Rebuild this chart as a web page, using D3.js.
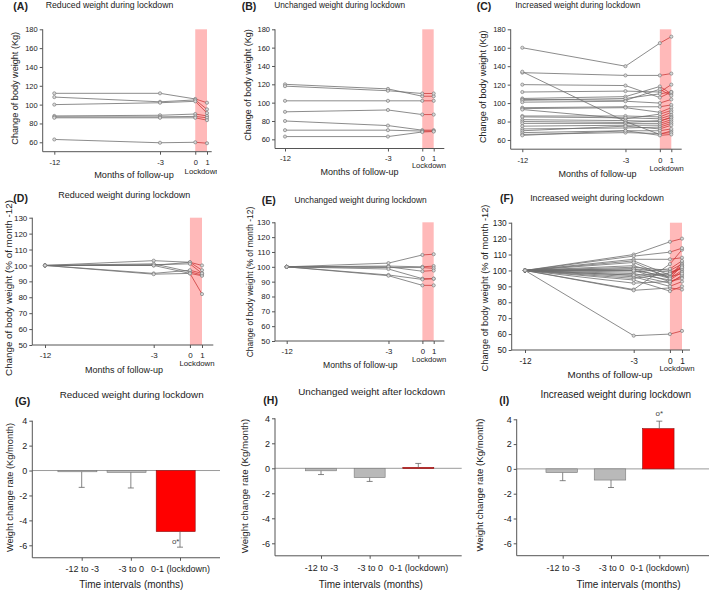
<!DOCTYPE html>
<html><head><meta charset="utf-8">
<script src="https://cdn.jsdelivr.net/npm/d3@7"></script>
<style>body{margin:0;background:#fff}svg{display:block}text{font-family:"Liberation Sans",Arial,sans-serif;fill:#222}</style>
</head><body><svg id="c" width="709" height="591"></svg>
<script>
// ---------- DATA ----------
const months = [-12, -3, 0, 1];
const yTicksKg = [60, 80, 100, 120, 140, 160, 180];
const yTicksPct = [50, 60, 70, 80, 90, 100, 110, 120, 130];
const yTicksRate = [-6, -4, -2, 0, 2, 4];
const intervals = ["-12 to -3", "-3 to 0", "0-1 (lockdown)"];

const kgReduced = [
  [112, 112, 106, 102], [108, 103, 105, 95], [100, 102, 103.5, 91],
  [88, 88.7, 90, 88], [87, 87, 87.5, 86], [86, 86, 86, 83.5], [63, 59.5, 60, 59]
];
const kgUnchanged = [
  [120, 115, 107, 107], [118, 113, 110, 110], [102, 102, 102, 102],
  [90, 92, 87, 87], [80, 75, 70, 70], [70, 70, 69, 69], [63, 63, 68, 68.5]
];
const kgIncreased = [
  [160, 140, 165, 172], [133, 130, 130, 132], [134, 80, 66, 70], [120, 119, 106, 112],
  [112, 113, 112, 120], [105, 107, 118, 110], [104, 103, 115, 108], [103, 105, 110, 112],
  [101, 102, 100, 104], [95, 96, 96, 98], [94, 95, 90, 95], [93, 83, 88, 92],
  [86, 86, 85, 90], [85, 84, 83, 87], [82, 81, 80, 85], [80, 79, 81, 84],
  [78, 78, 78, 82], [75, 76, 76, 80], [72, 73, 74, 78], [70, 75, 72, 76],
  [68, 70, 70, 72], [66, 68, 67, 68], [65, 70, 65, 66]
];
const pctReduced = [
  [100, 103, 102, 100], [100, 100, 102, 97], [100, 100.5, 101, 95], [100, 101, 96, 94],
  [100, 100, 95, 93.5], [100, 95, 97, 95], [100, 94.5, 95, 82]
];
const pctUnchanged = [
  [100, 102.5, 108, 108.5], [100, 100.5, 100, 100.5], [100, 99.5, 99.5, 99],
  [100, 100, 97, 97.5], [100, 98.5, 92, 92], [100, 94.5, 91.5, 92], [100, 94, 87.5, 87.5]
];
const pctIncreased = [
  [100, 59, 60, 62], [100, 88, 104, 113], [100, 87.5, 89, 88], [100, 110, 118, 120],
  [100, 109, 111.5, 114], [100, 107, 107, 108], [100, 106, 97, 102], [100, 103, 96, 105],
  [100, 102, 100, 104], [100, 101, 95, 100], [100, 100, 93, 96], [100, 99, 101, 106],
  [100, 98, 94, 99], [100, 97, 92, 97], [100, 96, 90, 93], [100, 95, 98, 103],
  [100, 94, 87, 90], [100, 101, 99, 101], [100, 100, 96, 98], [100, 92, 93, 95],
  [100, 105, 95, 103], [100, 97, 98, 102]
];
const rateReduced = [-0.1, -0.15, -4.9];
const errReduced = [1.25, 1.25, 1.25];
const rateUnchanged = [-0.2, -0.75, 0.07];
const errUnchanged = [0.3, 0.3, 0.32];
const rateIncreased = [-0.3, -0.9, 3.25];
const errIncreased = [0.65, 0.6, 0.6];

// ---------- DRAW ----------
const svg = d3.select("#c");
const PINK = "#ffb9b9", LINE = "#6e6e6e", RED = "#cc3b3b", AX = "#555";

function txt(g, t, x, y, fs, opts = {}) {
  const e = g.append("text").attr("x", x).attr("y", y).attr("font-size", fs)
    .attr("text-anchor", opts.anchor || "middle").text(t);
  if (opts.bold) e.attr("font-weight", "bold");
  if (opts.rot) e.attr("transform", `rotate(-90,${x},${y})`).attr("dy", "0.35em");
  return e;
}

function linePanel(c, data, ydom, yTicks, ylabel) {
  const g = svg.append("g");
  const x = d3.scaleLinear().domain([-12, 1]).range([c.xm12, c.x1]);
  const y = d3.scaleLinear().domain(ydom).range([c.yb, c.yt]);
  g.append("rect").attr("x", x(0)).attr("y", y(ydom[1])).attr("width", x(1) - x(0))
    .attr("height", y(ydom[0]) - y(ydom[1])).attr("fill", PINK);
  const line = d3.line().x(d => x(d[0])).y(d => y(d[1]));
  data.forEach(row => {
    const pts = months.map((m, i) => [m, row[i]]);
    g.append("path").attr("d", line(pts.slice(0, 3))).attr("fill", "none").attr("stroke", LINE).attr("stroke-width", 0.8);
    g.append("path").attr("d", line(pts.slice(2))).attr("fill", "none").attr("stroke", RED).attr("stroke-width", 0.8);
  });
  data.forEach(row => months.forEach((m, i) => {
    g.append("circle").attr("cx", x(m)).attr("cy", y(row[i])).attr("r", 1.6)
      .attr("fill", "#d8d8d8").attr("stroke", "#707070").attr("stroke-width", 0.6);
  }));
  const yAxis = d3.axisLeft(y).tickValues(yTicks).tickSize(3).tickSizeOuter(0).tickPadding(2).tickFormat(d => String(d));
  const ya = g.append("g").attr("transform", `translate(${c.ax},0)`).call(yAxis);
  ya.select(".domain").remove();
  ya.selectAll("line").attr("stroke", AX);
  ya.selectAll("text").attr("font-size", c.tfs).attr("font-family", null).style("fill", "#222");
  g.append("line").attr("x1", c.ax).attr("x2", c.ax).attr("y1", y(ydom[1])).attr("y2", y(ydom[0])).attr("stroke", AX);
  const axY = y(ydom[0]);
  const xAxis = d3.axisBottom(x).tickValues(months).tickSize(3).tickSizeOuter(0).tickFormat(d => String(d));
  const xa = g.append("g").attr("transform", `translate(0,${axY})`).call(xAxis);
  xa.select(".domain").remove();
  xa.selectAll("line").attr("stroke", AX);
  xa.selectAll("text").attr("font-size", c.tfs).attr("font-family", null).attr("y", c.tb - axY).attr("dy", 0).style("fill", "#222");
  g.append("line").attr("x1", c.ax).attr("x2", c.xr).attr("y1", axY).attr("y2", axY).attr("stroke", AX);
  const lk = txt(g, "Lockdown", x(0.5) + 1, c.lb, c.lfs);
  if (c.clip) {
    svg.append("clipPath").attr("id", "clipA").append("rect").attr("x", 0).attr("y", 0).attr("width", c.clip).attr("height", 591);
    lk.attr("clip-path", "url(#clipA)");
  }
  txt(g, "Months of follow-up", c.xl[0], c.xl[1], c.xl[2]);
  txt(g, ylabel, c.yl[0], c.yl[1], c.yl[2], { rot: true });
  txt(g, c.title, c.ti[0], c.ti[1], c.ti[2]);
  txt(g, c.letter, c.le[0], c.le[1], 10.5, { anchor: "start", bold: true });
}

function barPanel(c, vals, errs) {
  const g = svg.append("g");
  const yb = c.y_6 + (c.y_6 - c.y4) / 10;
  const y = d3.scaleLinear().domain([-7, 4]).range([yb, c.y4]);
  const x = d3.scalePoint().domain(intervals).range([c.t0, c.t2]);
  g.append("line").attr("x1", c.ax).attr("x2", c.xr).attr("y1", y(0)).attr("y2", y(0)).attr("stroke", "#9a9a9a").attr("stroke-width", 1);
  intervals.forEach((k, i) => {
    const v = vals[i], e = errs[i];
    const red = i === 2;
    const cx = x(k) + c.shift;
    g.append("rect").attr("x", cx - c.bw / 2).attr("width", c.bw)
      .attr("y", y(Math.max(0, v))).attr("height", Math.max(1, Math.abs(y(v) - y(0))))
      .attr("fill", red ? "#ff0000" : "#b9b9b9").attr("stroke", red ? "#8a1010" : "#7a7a7a").attr("stroke-width", 0.6);
    const ex = x(k);
    const ye = v < 0 ? v - e : v + e;
    g.append("line").attr("x1", ex).attr("x2", ex).attr("y1", y(v)).attr("y2", y(ye)).attr("stroke", "#666").attr("stroke-width", 0.8);
    g.append("line").attr("x1", ex - 3).attr("x2", ex + 3).attr("y1", y(ye)).attr("y2", y(ye)).attr("stroke", "#666").attr("stroke-width", 0.8);
  });
  const yAxis = d3.axisLeft(y).tickValues(yTicksRate).tickSize(3).tickSizeOuter(0).tickPadding(2).tickFormat(d => String(d));
  const ya = g.append("g").attr("transform", `translate(${c.ax},0)`).call(yAxis);
  ya.select(".domain").remove();
  ya.selectAll("line").attr("stroke", AX);
  ya.selectAll("text").attr("font-size", 9).attr("font-family", null).style("fill", "#222");
  g.append("line").attr("x1", c.ax).attr("x2", c.ax).attr("y1", y(4)).attr("y2", yb).attr("stroke", AX);
  const xAxis = d3.axisBottom(x).tickSize(3).tickSizeOuter(0);
  const xa = g.append("g").attr("transform", `translate(0,${yb})`).call(xAxis);
  xa.select(".domain").remove();
  xa.selectAll("line").attr("stroke", AX);
  xa.selectAll("text").attr("font-size", 9).attr("font-family", null).attr("y", c.tb - yb).attr("dy", 0).style("fill", "#222");
  g.append("line").attr("x1", c.ax).attr("x2", c.xr).attr("y1", yb).attr("y2", yb).attr("stroke", AX);
  txt(g, "Time intervals (months)", c.xl[0], c.xl[1], 10);
  txt(g, "Weight change rate (Kg/month)", c.yl[0], c.yl[1], c.yl[2], { rot: true });
  txt(g, c.title, c.ti[0], c.ti[1], c.ti[2]);
  txt(g, c.letter, c.le[0], c.le[1], 10.5, { anchor: "start", bold: true });
  if (c.star) txt(g, "o*", c.star[0], c.star[1], 8).style("fill", "#444");
}

const kgLab = "Change of body weight (Kg)";
const pctLab = "Change of body weight (% of month -12)";

linePanel({ ax: 42.7, xm12: 54.3, x1: 207, xr: 211.7, yt: 29.3, yb: 151.7, tfs: 7.5, tb: 165.5, lb: 173.5, lfs: 7.8,
  xl: [134, 178.3, 9.2], yl: [15, 88.3, 9.1], ti: [109.5, 8, 8.7], title: "Reduced weight during lockdown",
  letter: "(A)", le: [13.3, 9.5], clip: 217 }, kgReduced, [50, 180], yTicksKg, kgLab);
linePanel({ ax: 275, xm12: 285, x1: 433.7, xr: 444.3, yt: 29.3, yb: 148.5, tfs: 7.5, tb: 160.5, lb: 168.3, lfs: 7.6,
  xl: [359.5, 175, 9], yl: [248.3, 85, 9], ti: [339.7, 8, 8.3], title: "Unchanged weight during lockdown",
  letter: "(B)", le: [241.7, 9.5] }, kgUnchanged, [50, 180], yTicksKg, kgLab);
linePanel({ ax: 510.7, xm12: 522.3, x1: 671.3, xr: 681.7, yt: 29.3, yb: 149.2, tfs: 7.5, tb: 162.8, lb: 171, lfs: 7.6,
  xl: [597.5, 176.5, 9], yl: [483.3, 86.7, 9.1], ti: [577.8, 8, 8.3], title: "Increased weight during lockdown",
  letter: "(C)", le: [476.7, 9.5] }, kgIncreased, [50, 180], yTicksKg, kgLab);
linePanel({ ax: 32.3, xm12: 45, x1: 202, xr: 213.3, yt: 217.7, yb: 345, tfs: 8, tb: 358, lb: 366, lfs: 7.8,
  xl: [124, 372.5, 9], yl: [8.3, 288, 9.8], ti: [124.2, 198, 9], title: "Reduced weight during lockdown",
  letter: "(D)", le: [13.3, 202] }, pctReduced, [50, 130], yTicksPct, pctLab);
linePanel({ ax: 275, xm12: 286.7, x1: 433.7, xr: 444.3, yt: 222.3, yb: 341, tfs: 7.8, tb: 353.5, lb: 362, lfs: 7.6,
  xl: [360.3, 368, 8.6], yl: [250, 282, 8.4], ti: [360.5, 203, 8.4], title: "Unchanged weight during lockdown",
  letter: "(E)", le: [261.7, 204] }, pctUnchanged, [50, 130], yTicksPct, pctLab);
linePanel({ ax: 511.7, xm12: 525, x1: 682, xr: 690, yt: 222.7, yb: 350, tfs: 8.3, tb: 363.5, lb: 371, lfs: 7.8,
  xl: [610, 378, 9.8], yl: [485, 288, 9.3], ti: [597, 201, 8.9], title: "Increased weight during lockdown",
  letter: "(F)", le: [500, 202] }, pctIncreased, [50, 130], yTicksPct, pctLab);

barPanel({ ax: 32.3, xr: 220, y4: 420.7, y_6: 545.3, t0: 81.7, t2: 180, shift: -4.3, bw: 39, tb: 572.5,
  xl: [131.3, 588], yl: [10, 487.5, 9.3], ti: [131.7, 398, 9.8], title: "Reduced weight during lockdown",
  letter: "(G)", le: [15, 405], star: [175.7, 544] }, rateReduced, errReduced);
barPanel({ ax: 275, xr: 461.7, y4: 418.3, y_6: 543.3, t0: 321, t2: 418.3, shift: 0, bw: 31, tb: 571,
  xl: [370.8, 587.5], yl: [245, 486, 9.7], ti: [371.7, 395, 9.8], title: "Unchanged weight after lockdown",
  letter: "(H)", le: [263.3, 404] }, rateUnchanged, errUnchanged);
barPanel({ ax: 516.7, xr: 709, y4: 419.3, y_6: 543.3, t0: 562.7, t2: 659.3, shift: -1, bw: 31.5, tb: 571,
  xl: [628.5, 587.5], yl: [479.3, 485, 9.6], ti: [615.8, 398, 10], title: "Increased weight during lockdown",
  letter: "(I)", le: [499.3, 404], star: [659.3, 416] }, rateIncreased, errIncreased);
</script></body></html>
